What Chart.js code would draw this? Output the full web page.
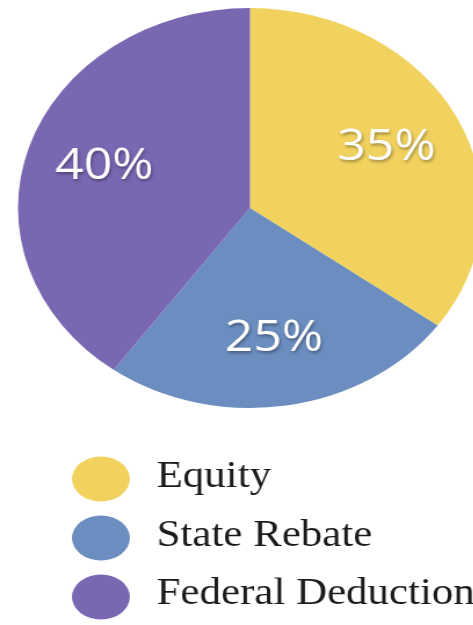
<!DOCTYPE html>
<html>
<head>
<meta charset="utf-8">
<script src="https://cdn.jsdelivr.net/npm/chart.js@4"></script>
<style>
  html, body { margin: 0; padding: 0; background: #ffffff; overflow: hidden; width: 473px; height: 625px; }
  #contenedor { width: 431px; height: 625px; transform: scaleX(1.16); transform-origin: 0 0; }
</style>
</head>
<body>
<div id="contenedor">
  <canvas id="pastel_financiamiento" width="431" height="625"></canvas>
</div>
<script>
//Datos
const categorias = ['Equity', 'State Rebate', 'Federal Deduction'];
const valores = [35, 25, 40];
const colores = ['#F2D25F', '#6B8DBF', '#7A67B2'];

//Etiquetas de porcentaje dentro del pastel
const etiquetas_pastel = {
  id: 'etiquetas_pastel',
  afterDatasetsDraw(chart) {
    const ctx = chart.ctx;
    const meta = chart.getDatasetMeta(0);
    ctx.save();
    ctx.font = '43px "Open Sans"';
    ctx.fillStyle = '#ffffff';
    ctx.textAlign = 'center';
    ctx.textBaseline = 'middle';
    ctx.shadowColor = 'rgba(0,0,0,0.35)';
    ctx.shadowBlur = 3;
    ctx.shadowOffsetX = 1;
    ctx.shadowOffsetY = 2;
    meta.data.forEach((arc, i) => {
      const p = arc.getProps(['x', 'y', 'startAngle', 'endAngle', 'outerRadius'], true);
      const mid = (p.startAngle + p.endAngle) / 2;
      const r = p.outerRadius * 0.66;
      ctx.fillText(valores[i] + '%', p.x + Math.cos(mid) * r, p.y + Math.sin(mid) * r);
    });
    ctx.restore();
  }
};

//Leyenda en columna debajo del pastel
const leyenda_columna = {
  id: 'leyenda_columna',
  afterDraw(chart) {
    const ctx = chart.ctx;
    ctx.save();
    ctx.font = '37px "Liberation Serif"';
    ctx.textBaseline = 'alphabetic';
    ctx.textAlign = 'left';
    categorias.forEach((nombre, i) => {
      const cy = 479 + i * 59;
      ctx.fillStyle = colores[i];
      ctx.beginPath();
      ctx.ellipse(87, cy, 25, 22.5, 0, 0, Math.PI * 2);
      ctx.fill();
      ctx.fillStyle = '#1b1b1b';
      ctx.fillText(nombre, 135, cy + 8 + (i === 2 ? -1 : 0));
    });
    ctx.restore();
  }
};

const pastel_financiamiento = document.getElementById('pastel_financiamiento');

const data_pastel_financiamiento = {
  labels: categorias,
  datasets: [{
    label: 'Financiamiento',
    data: valores,
    backgroundColor: colores,
    borderWidth: 0
  }]
};

new Chart(pastel_financiamiento, {
  type: 'pie',
  data: data_pastel_financiamiento,
  options: {
    responsive: false,
    animation: false,
    layout: { padding: { top: 8, left: 15.5, right: 15.5, bottom: 217 } },
    plugins: {
      legend: { display: false },
      tooltip: { enabled: false }
    }
  },
  plugins: [etiquetas_pastel, leyenda_columna]
});
</script>
</body>
</html>
